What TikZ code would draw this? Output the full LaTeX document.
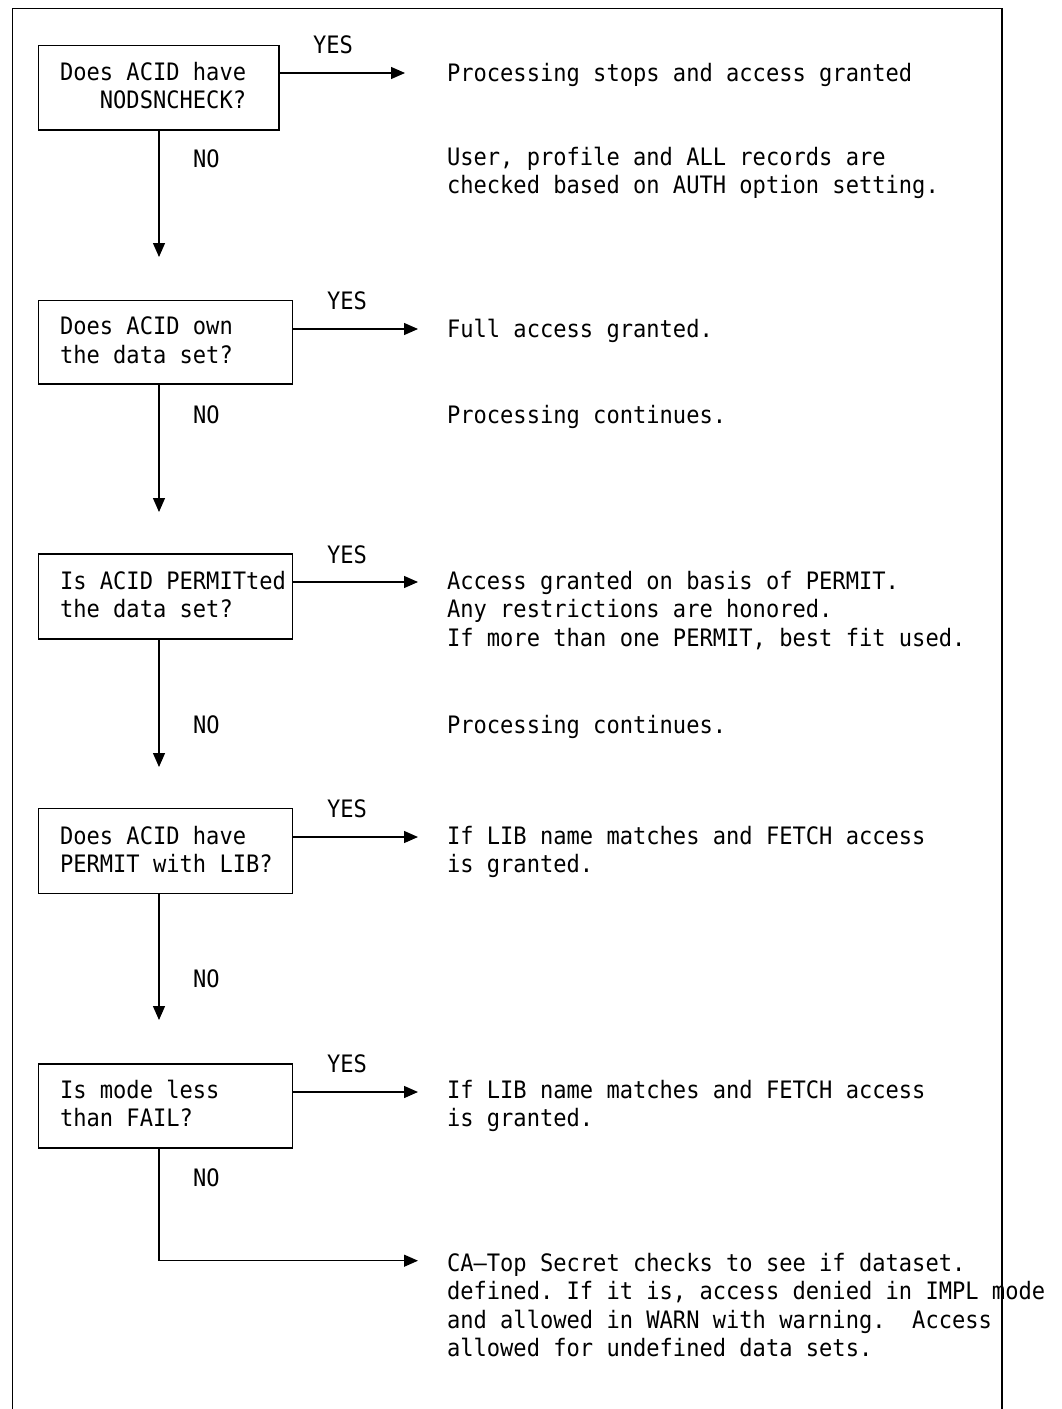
\documentclass[tikz,border=0pt]{standalone}
\usepackage{fontspec}
\newfontfamily\monofont[FakeStretch=0.92]{DejaVu Sans Mono}
\usetikzlibrary{arrows.meta,calc}
\frenchspacing
% first-line strut: puts the top of a multi-line text 15pt above its first baseline
\newcommand\firstline{\rule{0pt}{15pt}}

\begin{document}
\begin{tikzpicture}[x=0.75pt,y=-0.75pt,
  every node/.style={font=\fontsize{18pt}{21.3pt}\monofont, inner sep=0pt, outer sep=0pt},
  qbox/.style={draw, line width=1pt, minimum width=190.5pt, minimum height=63.6pt},
  qtext/.style={anchor=north west, align=left, execute at begin node=\firstline},
  note/.style={anchor=north west, align=left, execute at begin node=\firstline},
  lbl/.style={anchor=base west},
  flow/.style={line width=1pt, -{Triangle[length=10.5pt,width=9pt]}},
  frame/.style={line width=1.2pt}]

\useasboundingbox (0,0) rectangle (1062,1409);

% outer frame, open at the bottom
\draw[frame] (12.5,1415) -- (12.5,8.5) -- (1002,8.5) -- (1002,1415);

% decision boxes
\node[qbox, minimum width=180.4pt, minimum height=63.4pt] (q1) at (158.75,87.75) {};
\node[qbox, minimum height=62.5pt] (q2) at (165.7,342.35) {};
\node[qbox] (q3) at (165.7,596.5) {};
\node[qbox] (q4) at (165.7,851.2) {};
\node[qbox, minimum height=63pt] (q5) at (165.7,1106) {};

% questions inside the boxes
\node[qtext] (q1t) at (60,62) {Does ACID have\\\phantom{NNN}NODSNCHECK?};
\node[qtext] (q2t) at (60,317) {Does ACID own\\the data set?};
\node[qtext] (q3t) at (60,571) {Is ACID PERMITted\\the data set?};
\node[qtext] (q4t) at (60,826) {Does ACID have\\PERMIT with LIB?};
\node[qtext] (q5t) at (60,1080) {Is mode less\\than FAIL?};

% arrow end points
\coordinate (y1) at (405,73);
\coordinate (y2) at (418,329);
\coordinate (y3) at (418,582);
\coordinate (y4) at (418,837);
\coordinate (y5) at (418,1092);
\coordinate (y6) at (418,1260.7);
\coordinate (d1) at (159,257);
\coordinate (d2) at (159,512);
\coordinate (d3) at (159,767);
\coordinate (d4) at (159,1020);

% YES branches
\draw[flow] (q1.east |- y1) -- (y1);
\draw[flow] (q2.east |- y2) -- (y2);
\draw[flow] (q3.east |- y3) -- (y3);
\draw[flow] (q4.east |- y4) -- (y4);
\draw[flow] (q5.east |- y5) -- (y5);

% NO branches
\draw[flow] (q1.south -| d1) -- (d1);
\draw[flow] (q2.south -| d2) -- (d2);
\draw[flow] (q3.south -| d3) -- (d3);
\draw[flow] (q4.south -| d4) -- (d4);
\draw[flow] (q5.south -| d4) |- (y6);

% branch labels
\node[lbl] (yes1) at (313,54) {YES};
\node[lbl] (yes2) at (327,309) {YES};
\node[lbl] (yes3) at (327,563) {YES};
\node[lbl] (yes4) at (327,817) {YES};
\node[lbl] (yes5) at (327,1072) {YES};
\node[lbl] (no1) at (193,167) {NO};
\node[lbl] (no2) at (193,423) {NO};
\node[lbl] (no3) at (193,733) {NO};
\node[lbl] (no4) at (193,987) {NO};
\node[lbl] (no5) at (193,1186) {NO};

% outcomes
\node[lbl] (r1a) at (447,82) {Processing stops and access granted};
\node[note] (r1b) at (447,147) {User, profile and ALL records are\\checked based on AUTH option setting.};
\node[lbl] (r2a) at (447,337) {Full access granted.};
\node[lbl] (r2b) at (447,423) {Processing continues.};
\node[note] (r3a) at (447,571) {Access granted on basis of PERMIT.\\Any restrictions are honored.\\If more than one PERMIT, best fit used.};
\node[lbl] (r3b) at (447,733) {Processing continues.};
\node[note] (r4) at (447,826) {If LIB name matches and FETCH access\\is granted.};
\node[note] (r5) at (447,1080) {If LIB name matches and FETCH access\\is granted.};
\node[note] (r6) at (447,1253) {CA—Top Secret checks to see if dataset.\\defined. If it is, access denied in IMPL mode\\and allowed in WARN with warning.\ \ Access\\allowed for undefined data sets.};

\end{tikzpicture}
\end{document}
